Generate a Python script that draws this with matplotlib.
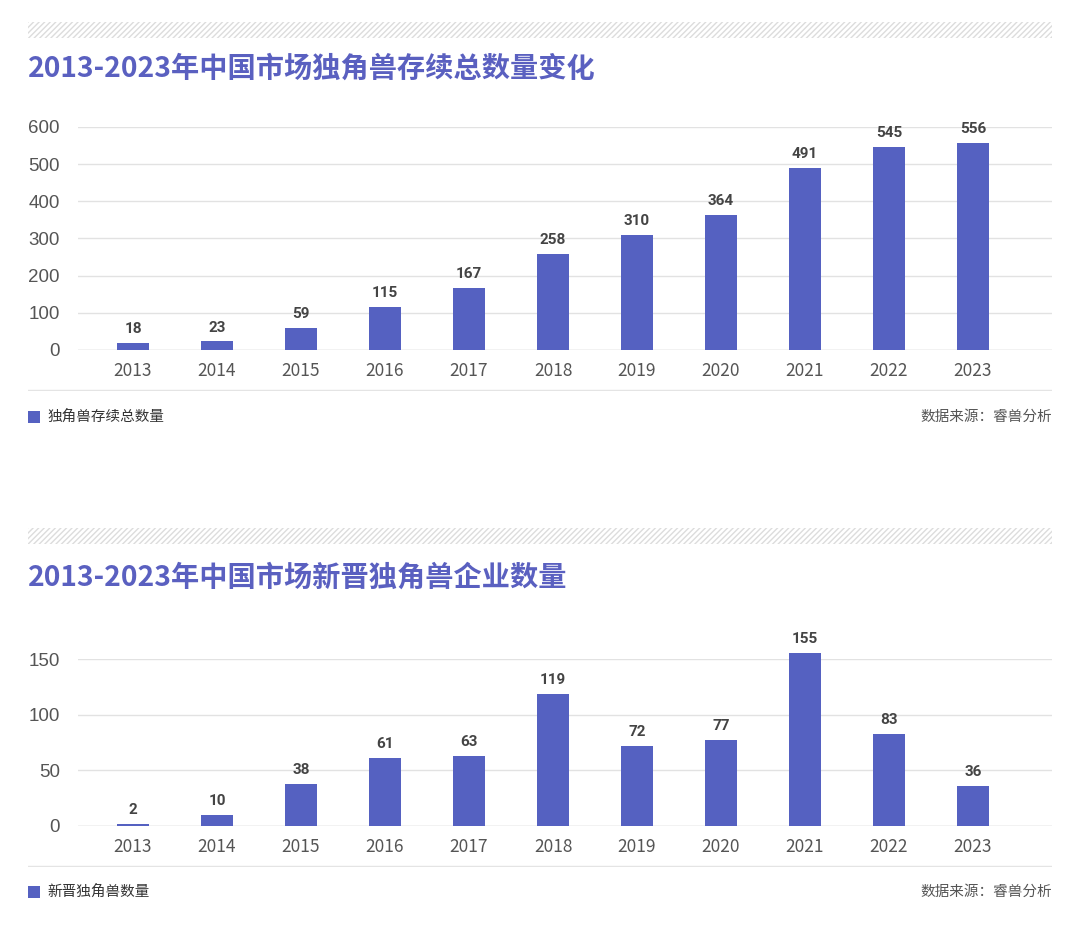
import matplotlib.pyplot as plt
from matplotlib.patches import Rectangle

plt.rcParams['font.family'] = ['Noto Sans CJK SC', 'DejaVu Sans']

# data
years = ['2013', '2014', '2015', '2016', '2017', '2018', '2019', '2020', '2021', '2022', '2023']
total = [18, 23, 59, 115, 167, 258, 310, 364, 491, 545, 556]
new = [2, 10, 38, 61, 63, 119, 72, 77, 155, 83, 36]

title1 = '2013-2023年中国市场独角兽存续总数量变化'
title2 = '2013-2023年中国市场新晋独角兽企业数量'
legend1 = '独角兽存续总数量'
legend2 = '新晋独角兽数量'
source = '数据来源：睿兽分析'

W, H = 1080, 934
bar_color = '#5561C1'
title_color = '#5A60C0'
grid_color = '#E2E2E2'
text_gray = '#555555'

fig = plt.figure(figsize=(W / 100, H / 100), dpi=100)


def px(x0, y0, x1, y1):
    # pixel box (top-left origin) -> figure fraction rect
    return [x0 / W, 1 - y1 / H, (x1 - x0) / W, (y1 - y0) / H]


def stripe(y0, y1):
    ax = fig.add_axes(px(28, y0, 1052, y1))
    ax.add_patch(Rectangle((0, 0), 1, 1, facecolor='none', edgecolor='#DCDCDC',
                           hatch='//////', linewidth=0))
    ax.set_xlim(0, 1)
    ax.set_ylim(0, 1)
    ax.axis('off')


def panel(top, bottom, values, ymax, yticks, title, stripe_y, title_y, sep_y, leg_y, legend):
    stripe(stripe_y, stripe_y + 16)
    fig.text(28 / W, 1 - title_y / H, title, fontsize=20.3, fontweight='bold',
             color=title_color, va='center', ha='left')

    ax = fig.add_axes(px(78, top, 1052, bottom))
    x = range(len(years))
    bars = ax.bar(x, values, width=0.38, color=bar_color, zorder=3)
    for b in bars:
        b.set_clip_on(False)
    for i, v in enumerate(values):
        ax.annotate(str(v), (i, v), xytext=(0, 5), textcoords='offset points',
                    ha='center', va='bottom', fontsize=11, fontweight='bold',
                    color='#444444', family='Roboto', annotation_clip=False)
    ax.set_xlim(-0.655, 10.94)
    ax.set_ylim(0, ymax)
    ax.set_yticks(yticks)
    ax.set_yticklabels([str(t) for t in yticks], family='Liberation Sans',
                       fontsize=13.5, color=text_gray)
    ax.set_xticks(list(x))
    ax.set_xticklabels(years, fontsize=12.5, color=text_gray)
    ax.tick_params(length=0)
    ax.tick_params(axis='y', pad=13)
    ax.tick_params(axis='x', pad=9)
    ax.grid(axis='y', color=grid_color, linewidth=1, zorder=0)
    for s in ax.spines.values():
        s.set_visible(False)
    ax.axhline(0, color='#D8D8D8', linewidth=1, zorder=2)

    # separator line
    sep = fig.add_axes(px(28, sep_y - 1, 1052, sep_y + 1))
    sep.axhline(0.5, color='#E4E4E4', linewidth=1)
    sep.set_xlim(0, 1)
    sep.set_ylim(0, 1)
    sep.axis('off')

    # legend + source
    fig.patches.append(Rectangle((28 / W, 1 - (leg_y + 6) / H), 12 / W, 12 / H,
                                 transform=fig.transFigure, facecolor=bar_color,
                                 edgecolor='none'))
    fig.text(47 / W, 1 - leg_y / H, legend, fontsize=10.5, color='#333333',
             va='center', ha='left')
    fig.text(1052 / W, 1 - leg_y / H, source, fontsize=10.5, color=text_gray,
             va='center', ha='right')


panel(127, 350, total, 600, [0, 100, 200, 300, 400, 500, 600], title1, 22, 69, 390, 417, legend1)
panel(659, 826, new, 150, [0, 50, 100, 150], title2, 528, 578, 866, 892, legend2)

fig.savefig('out.png', dpi=100, facecolor='white')
